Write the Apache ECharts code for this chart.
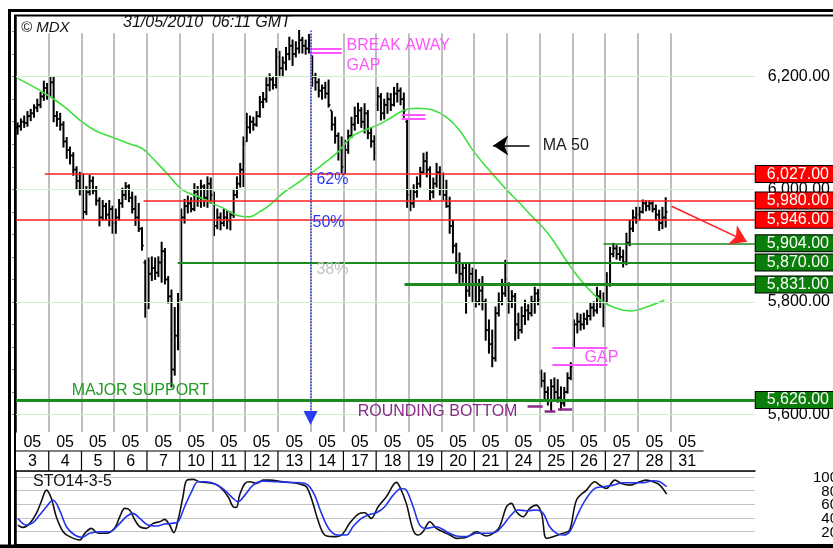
<!DOCTYPE html>
<html>
<head>
<meta charset="utf-8">
<script src="https://cdn.jsdelivr.net/npm/echarts@6/dist/echarts.min.js"></script>
<style>
  html, body { margin: 0; padding: 0; background: #fff; }
  #chart { width: 833px; height: 548px; }
</style>
</head>
<body>
<div id="chart"></div>
<script>
// ---- data (x = bar index, 10 bars per trading day) ----
const month = '05';
const days = ['3', '4', '5', '6', '7', '10', '11', '12', '13', '14', '17', '18', '19', '20', '21', '24', '25', '26', '27', '28', '31'];

// [open, close, low, high]
const bars = [
  // 3
  [6110,6112,6098,6118],[6112,6120,6105,6125],[6120,6118,6110,6130],[6118,6130,6112,6138],[6130,6135,6122,6142],[6135,6145,6128,6150],[6145,6150,6138,6160],[6150,6165,6145,6172],[6165,6180,6158,6192],[6180,6170,6160,6188],
  // 4
  [6170,6190,6165,6200],[6190,6130,6120,6200],[6130,6125,6112,6138],[6125,6115,6105,6135],[6115,6085,6075,6120],[6085,6070,6055,6092],[6070,6060,6045,6075],[6060,6035,6025,6065],[6035,6015,6000,6040],[6015,6000,5990,6030],
  // 5
  [6000,5960,5948,6028],[5960,5995,5955,6005],[5995,6015,5990,6025],[6015,5998,5992,6022],[5998,5980,5972,6005],[5980,5950,5935,5985],[5950,5970,5945,5980],[5970,5955,5945,5975],[5955,5965,5935,5980],[5965,5940,5922,5970],
  // 6
  [5940,5950,5922,5965],[5950,5975,5945,5982],[5975,5990,5968,6002],[5990,6005,5982,6012],[6005,5985,5978,6008],[5985,5965,5958,5995],[5965,5950,5936,5988],[5950,5930,5925,5975],[5930,5900,5892,5932],[5870,5790,5773,5874],
  // 7
  [5790,5850,5788,5878],[5850,5860,5838,5880],[5860,5852,5840,5878],[5852,5870,5845,5880],[5870,5890,5835,5906],[5890,5840,5832,5895],[5840,5810,5798,5845],[5810,5680,5649,5821],[5680,5740,5670,5790],[5740,5790,5715,5815],
  // 10
  [5805,5950,5803,5965],[5950,5970,5940,5982],[5970,5975,5958,5988],[5975,5965,5960,5985],[5965,5995,5962,6010],[5995,5985,5970,6005],[5985,6005,5968,6016],[6005,5985,5970,6008],[5985,6010,5968,6022],[6010,5990,5975,6020],
  // 11
  [5990,5935,5918,5995],[5935,5950,5930,5965],[5950,5940,5928,5958],[5940,5950,5935,5965],[5950,5945,5930,5962],[5945,5955,5928,5960],[5955,5990,5950,6000],[5990,6010,5985,6022],[6010,6035,6004,6046],[6035,6080,6005,6093],
  // 12
  [6085,6110,6085,6135],[6110,6120,6100,6130],[6120,6115,6105,6128],[6115,6130,6112,6138],[6130,6155,6128,6165],[6155,6160,6145,6172],[6160,6185,6155,6198],[6185,6195,6175,6205],[6195,6185,6178,6200],[6185,6235,6180,6250],
  // 13
  [6235,6215,6200,6245],[6215,6225,6200,6235],[6225,6240,6212,6252],[6240,6255,6230,6270],[6255,6240,6220,6265],[6240,6250,6235,6262],[6250,6265,6242,6282],[6265,6255,6242,6270],[6255,6250,6240,6265],[6250,6258,6242,6275],
  // 14
  [6235,6200,6183,6237],[6200,6190,6176,6206],[6190,6175,6164,6196],[6175,6180,6160,6185],[6180,6170,6162,6190],[6170,6150,6146,6194],[6140,6115,6105,6138],[6115,6095,6082,6128],[6095,6070,6052,6100],[6070,6040,6029,6093],
  // 17
  [6040,6070,6028,6087],[6070,6095,6064,6105],[6095,6115,6092,6128],[6115,6130,6105,6146],[6130,6140,6117,6153],[6140,6120,6110,6145],[6120,6135,6100,6152],[6135,6100,6090,6140],[6100,6085,6075,6108],[6085,6065,6052,6095],
  // 18
  [6150,6165,6140,6181],[6165,6135,6123,6170],[6135,6150,6125,6160],[6150,6160,6135,6171],[6160,6150,6140,6170],[6150,6170,6148,6181],[6170,6175,6155,6188],[6175,6160,6150,6180],[6160,6140,6128,6171],[6120,5990,5968,6125],
  // 19
  [5990,5975,5962,6000],[5975,5995,5968,6008],[5995,6010,5986,6022],[6010,6030,6004,6039],[6030,6050,6029,6064],[6050,6035,6022,6066],[6035,5995,5981,6040],[5995,6010,5985,6020],[6010,6030,6004,6046],[6030,6000,5990,6040],
  // 20
  [6000,5990,5981,6029],[5990,5970,5968,6016],[5970,5935,5922,5986],[5935,5900,5887,5945],[5900,5870,5851,5904],[5870,5850,5834,5887],[5850,5860,5835,5870],[5860,5820,5780,5869],[5820,5850,5810,5869],[5850,5830,5800,5860],
  // 21
  [5830,5800,5791,5857],[5800,5820,5795,5840],[5820,5800,5786,5845],[5800,5750,5732,5805],[5750,5725,5709,5768],[5725,5700,5685,5750],[5700,5780,5695,5791],[5780,5800,5775,5816],[5800,5815,5795,5840],[5815,5840,5810,5874],
  // 24
  [5830,5800,5780,5834],[5800,5810,5790,5820],[5810,5760,5732,5815],[5760,5750,5735,5780],[5750,5775,5745,5791],[5775,5785,5760,5803],[5785,5780,5768,5795],[5780,5800,5775,5810],[5800,5815,5780,5826],[5815,5805,5795,5822],
  // 25
  [5675,5660,5649,5679],[5660,5640,5626,5674],[5640,5625,5617,5649],[5625,5650,5605,5662],[5650,5640,5626,5665],[5640,5630,5622,5662],[5630,5620,5608,5649],[5620,5640,5615,5648],[5640,5665,5638,5674],[5665,5685,5662,5692],
  // 26
  [5725,5760,5720,5768],[5760,5765,5745,5780],[5765,5760,5750,5778],[5760,5770,5752,5780],[5770,5775,5760,5785],[5775,5790,5768,5798],[5790,5785,5775,5800],[5785,5810,5780,5826],[5810,5800,5790,5820],[5800,5790,5756,5816],
  // 27
  [5800,5830,5798,5852],[5830,5885,5828,5897],[5885,5895,5880,5904],[5895,5885,5876,5900],[5885,5880,5874,5897],[5880,5870,5862,5892],[5870,5905,5866,5922],[5905,5930,5900,5945],[5930,5950,5925,5963],[5950,5955,5940,5968],
  // 28
  [5955,5960,5945,5968],[5960,5975,5958,5981],[5975,5970,5962,5980],[5970,5975,5963,5980],[5975,5965,5960,5979],[5965,5955,5945,5972],[5955,5940,5927,5963],[5940,5950,5930,5968],[5950,5960,5933,5985]
];

// MA 50, [bar index, value]
const ma50 = [[0.5,6197],[5.7,6181],[9.7,6167],[14.9,6146],[19.5,6123],[24.0,6105],[29.2,6093],[34.1,6082],[38.4,6073],[40.8,6061],[46.0,6029],[50.9,5999],[56.1,5986],[59.2,5977],[63.1,5967],[67.4,5954],[71.4,5951],[74.4,5960],[77.5,5972],[81.5,5993],[86.0,6011],[90.3,6029],[94.3,6047],[98.3,6066],[102.5,6093],[106.5,6105],[110.5,6114],[114.8,6128],[118.7,6141],[122.7,6144],[127.3,6141],[131.5,6128],[135.5,6105],[139.5,6070],[143.8,6039],[149.9,5999],[153.8,5976],[157.8,5951],[160.9,5933],[164.0,5910],[168.2,5873],[172.2,5841],[176.1,5816],[179.8,5798],[184.4,5787],[188.1,5784],[192.6,5791],[198.1,5803]];

// STO14-3-5
const stoK = [[0.6,29.4],[2.1,25.9],[4.2,31.9],[6.2,46.6],[7.7,63.7],[9.3,80.9],[10.8,68.6],[12.3,41.7],[14.4,19.6],[16.4,12.3],[19.5,7.4],[21.0,17.2],[23.0,24.5],[25.1,17.2],[27.6,17.2],[30.1,24.5],[31.7,41.7],[33.2,53.9],[34.7,51.5],[36.3,36.8],[37.8,26.9],[39.8,24.5],[41.9,31.9],[43.9,34.3],[45.4,37.7],[46.9,29.4],[48.2,18.1],[49.5,36.8],[51.0,71.1],[52.2,95.6],[54.1,96.6],[56.1,93.1],[60.2,90.7],[62.2,85.8],[64.8,71.1],[66.3,56.4],[67.3,55.4],[68.3,73.5],[69.9,90.7],[71.4,93.1],[73.4,90.7],[75.5,95.6],[77.5,95.6],[81.6,93.1],[84.6,91.7],[86.6,89.7],[88.7,85.8],[90.7,61.3],[92.2,36.8],[94.3,14.7],[96.8,12.3],[99.4,14.7],[101.9,31.9],[104.5,45.6],[106.5,47.5],[108.5,39.2],[110.6,56.4],[113.1,71.1],[116.2,92.2],[117.2,85.8],[119.2,61.3],[121.3,22.1],[122.8,14.7],[124.3,19.6],[126.4,34.3],[128.4,24.5],[130.4,19.6],[132.5,14.7],[134.5,9.8],[137.6,11.3],[140.6,19.6],[143.7,13.2],[145.7,17.2],[147.7,26.9],[149.8,56.4],[151.3,61.3],[152.8,49.0],[154.9,41.7],[156.9,53.9],[158.9,58.8],[160.5,46.6],[162.0,9.8],[164.0,12.3],[167.1,17.2],[169.1,22.1],[171.2,66.2],[174.2,80.9],[176.8,93.1],[178.3,88.2],[180.3,83.3],[182.9,95.6],[184.9,90.7],[187.5,88.2],[190.5,93.1],[192.5,95.6],[194.6,93.1],[196.6,88.2],[198.7,75.0]];
const stoD = [[0.6,39.2],[3.2,29.4],[5.2,32.8],[7.2,44.1],[9.3,56.4],[11.3,66.2],[13.3,51.5],[15.4,26.9],[17.9,14.7],[20.0,11.3],[22.5,17.2],[25.6,19.6],[28.6,19.6],[31.7,31.9],[33.7,41.7],[35.7,46.6],[37.8,39.2],[40.3,29.4],[42.9,27.9],[45.4,30.9],[47.5,31.9],[49.5,34.3],[51.5,56.4],[53.6,78.4],[55.6,93.1],[58.1,93.1],[61.2,89.2],[64.3,78.4],[66.3,68.6],[67.8,63.7],[69.9,73.5],[72.4,88.2],[75.5,94.1],[79.5,93.1],[83.6,92.2],[87.2,91.7],[89.2,88.2],[91.2,73.5],[93.3,46.6],[95.8,22.1],[98.4,14.7],[100.9,14.7],[102.9,26.9],[105.5,39.2],[108.0,45.1],[110.1,47.5],[112.6,56.4],[115.2,73.5],[117.7,83.3],[119.2,80.9],[121.3,56.4],[123.3,29.4],[125.3,24.5],[128.4,26.9],[131.5,19.6],[134.5,13.2],[137.6,12.3],[140.6,17.2],[143.7,17.2],[146.7,19.6],[148.8,29.4],[150.8,41.7],[153.3,51.5],[155.9,50.5],[158.9,51.5],[161.0,46.6],[163.0,26.9],[165.1,17.2],[167.1,14.7],[169.1,19.6],[171.7,46.6],[174.2,68.6],[176.8,83.3],[179.3,85.8],[182.4,88.2],[185.4,91.7],[188.5,91.7],[191.5,91.7],[194.6,94.6],[196.6,93.1],[198.7,85.8]];

// support / resistance levels and the bar index where each line starts
const levelValues = [6027, 5980, 5946, 5904, 5870, 5831, 5626];
const levelFrom = [8.8, 39, 0, 179.5, 49.4, 118.7, 0];
const priceLabels = [5600, 5800, 6000, 6200];
const priceTicks = [5600,5640,5680,5720,5760,5800,5840,5880,5920,5960,6000,6040,6080,6120,6160,6200,6240,6280];
const stoLabels = [20, 40, 60, 80, 100];

// gap marks [from, to, upper, lower]
const gapBreakaway = [89.8, 99.5, 6250, 6243];
const gapMay18 = [117.8, 125.1, 6133, 6126];
const gapMay25 = [163.9, 180.7, 5718, 5688];

// ---- layout ----
const FONT = '"Liberation Sans", Arial, Helvetica, sans-serif';
const X_MAX = 225.7;
const Y_MIN = 5569, Y_MAX = 6306;
const RED = '#ff1f1f', GREEN = '#1d8a1d', PINK = '#ff55ff', PURPLE = '#8a2a8a', BLUE = '#2a3cf0';

const fmtPrice = v => {
  const [a, b] = v.toFixed(2).split('.');
  return a.replace(/\B(?=(\d{3})+(?!\d))/g, ',') + '.' + b;
};

const levelLook = v => {
  if (v >= 5946) return { color: RED, width: 1.5, box: '#ff0000' };
  const w = v === 5904 ? 1.5 : v === 5870 ? 2 : 3;
  return { color: GREEN, width: w, box: '#0a7d0a' };
};

function hLine(from, to, v, style, extra) {
  return [Object.assign({ coord: [from, v], lineStyle: style }, extra || {}),
          { coord: [to, v], lineStyle: style }];
}

// day separators and light green price grid
const gridLines = [];
for (let k = 1; k <= 20; k++) {
  gridLines.push([{ coord: [k * 10, 6277], lineStyle: { color: '#a9a9a9', width: 1.5, type: 'solid' } },
                  { coord: [k * 10, Y_MIN] }]);
}
priceLabels.forEach(v => gridLines.push(hLine(0, X_MAX, v, { color: '#cdefcd', width: 1, type: 'solid' })));

// annotation lines
const noteLines = [];
levelValues.forEach((v, i) => {
  const lk = levelLook(v);
  noteLines.push([
    { coord: [levelFrom[i], v], lineStyle: { color: lk.color, width: lk.width, type: 'solid' } },
    { coord: [X_MAX, v], lineStyle: { color: lk.color, width: lk.width, type: 'solid' },
      label: { show: true, position: 'end', distance: 1, formatter: fmtPrice(v), color: '#fff',
               fontFamily: FONT, fontSize: 16, lineHeight: 15, backgroundColor: lk.box,
               borderColor: '#000', borderWidth: 1, padding: [1, 30, 0, 11] } }
  ]);
});
[gapBreakaway, gapMay18, gapMay25].forEach(g => {
  noteLines.push(hLine(g[0], g[1], g[2], { color: PINK, width: 2, type: 'solid' }));
  noteLines.push(hLine(g[0], g[1], g[3], { color: PINK, width: 2, type: 'solid' }));
});
noteLines.push(hLine(156.3, 160.9, 5614, { color: PURPLE, width: 2.5, type: 'solid' }));
noteLines.push(hLine(161.5, 164.8, 5606, { color: PURPLE, width: 2.5, type: 'solid' }));
noteLines.push(hLine(165.6, 169.9, 5610, { color: PURPLE, width: 2.5, type: 'solid' }));
// blue dotted line with arrow down
noteLines.push([{ coord: [90, 6282], symbol: 'none', lineStyle: { color: BLUE, width: 1.5, type: 'dotted' } },
                { coord: [90, 5594], symbol: 'triangle', symbolSize: 14, lineStyle: { color: BLUE, width: 1.5, type: 'dotted' }, itemStyle: { color: BLUE } }]);
// MA 50 pointer
noteLines.push([{ coord: [156.9, 6078], symbol: 'none', lineStyle: { color: '#000', width: 1.5, type: 'solid' } },
                { coord: [145.8, 6078], symbol: 'arrow', symbolSize: 15, lineStyle: { color: '#000', width: 1.5, type: 'solid' }, itemStyle: { color: '#000' } }]);
// red arrow
noteLines.push([{ coord: [200.3, 5970], symbol: 'none', lineStyle: { color: RED, width: 1.5, type: 'solid' } },
                { coord: [223.3, 5907], symbol: 'arrow', symbolSize: 16, lineStyle: { color: RED, width: 1.5, type: 'solid' }, itemStyle: { color: RED } }]);

function renderOhlc(params, api) {
  const x = api.value(0);
  const op = api.coord([x, api.value(1)]);
  const cl = api.coord([x, api.value(2)]);
  const lo = api.coord([x, api.value(3)]);
  const hi = api.coord([x, api.value(4)]);
  const t = 1.8;
  const st = { stroke: '#000', lineWidth: 1.8 };
  return {
    type: 'group',
    children: [
      { type: 'line', shape: { x1: hi[0], y1: hi[1] - 0.5, x2: lo[0], y2: lo[1] + 0.5 }, style: { stroke: '#000', lineWidth: 2 } },
      { type: 'line', shape: { x1: op[0] - t, y1: op[1], x2: op[0], y2: op[1] }, style: st },
      { type: 'line', shape: { x1: cl[0], y1: cl[1], x2: cl[0] + t, y2: cl[1] }, style: st }
    ]
  };
}

function renderDays(params, api) {
  const i = params.dataIndex;
  const a = api.coord([i * 10, 0]);
  const b = api.coord([(i + 1) * 10, 0]);
  const top = params.coordSys.y;
  const xm = (a[0] + b[0]) / 2;
  const lineY = top + 19;
  const txt = { align: 'center', verticalAlign: 'middle', font: '16px ' + FONT, fill: '#000' };
  const kids = [
    { type: 'text', style: Object.assign({ text: month, x: xm, y: top + 11 }, txt) },
    { type: 'text', style: Object.assign({ text: days[i], x: xm, y: top + 29.5 }, txt) },
    { type: 'line', shape: { x1: a[0], y1: lineY, x2: b[0], y2: lineY }, style: { stroke: '#000', lineWidth: 1.2 } }
  ];
  if (i > 0) {
    kids.push({ type: 'line', shape: { x1: a[0], y1: lineY, x2: a[0], y2: top + 39 }, style: { stroke: '#000', lineWidth: 1.2 } });
  }
  return { type: 'group', children: kids };
}

const chart = echarts.init(document.getElementById('chart'));

chart.setOption({
  animation: false,
  backgroundColor: '#fff',
  grid: [
    { left: 16, right: 78, top: 17, height: 415 },
    { left: 16, right: 78, top: 471, height: 74 },
    { left: 16, right: 78, top: 432, height: 39 }
  ],
  xAxis: [
    { gridIndex: 0, type: 'value', min: 0, max: X_MAX, show: false },
    { gridIndex: 1, type: 'value', min: 0, max: X_MAX, position: 'top',
      axisLine: { show: true, onZero: false, lineStyle: { color: '#000', width: 1.5 } },
      axisTick: { show: false }, axisLabel: { show: false }, splitLine: { show: false } },
    { gridIndex: 2, type: 'value', min: 0, max: X_MAX, show: false }
  ],
  yAxis: [
    { gridIndex: 0, type: 'value', position: 'right', min: Y_MIN, max: Y_MAX, scale: true,
      axisLine: { show: true, lineStyle: { color: '#000', width: 1.5 } },
      axisTick: { show: true, inside: true, length: 4, customValues: priceTicks, lineStyle: { color: '#888' } },
      axisLabel: { customValues: priceLabels, formatter: v => fmtPrice(v), margin: 13, hideOverlap: false,
                   color: '#000', fontFamily: FONT, fontSize: 16 },
      splitLine: { show: false } },
    { gridIndex: 1, type: 'value', position: 'right', min: 0, max: 109, interval: 20,
      axisLine: { show: true, lineStyle: { color: '#000', width: 1.5 } },
      axisTick: { show: false },
      axisLabel: { show: false },
      splitLine: { show: true, lineStyle: { color: '#c4c4c4', width: 1 } } },
    { gridIndex: 2, type: 'value', min: 0, max: 1, show: false }
  ],
  series: [
    {
      name: 'grid', type: 'line', xAxisIndex: 0, yAxisIndex: 0, data: [], silent: true, z: 1, clip: false,
      markLine: { silent: true, symbol: 'none', label: { show: false }, animation: false, data: gridLines }
    },
    {
      name: 'levels', type: 'line', xAxisIndex: 0, yAxisIndex: 0, data: [], silent: true, z: 2, clip: false,
      markLine: { silent: true, symbol: 'none', label: { show: false }, animation: false, data: noteLines }
    },
    {
      name: 'DAX', type: 'custom', xAxisIndex: 0, yAxisIndex: 0, z: 3,
      renderItem: renderOhlc,
      encode: { x: 0, y: [1, 2, 3, 4] },
      data: bars.map((b, i) => [i + 0.5, b[0], b[1], b[2], b[3]])
    },
    {
      name: 'MA 50', type: 'line', xAxisIndex: 0, yAxisIndex: 0, z: 4, smooth: 0.4, symbol: 'none',
      lineStyle: { color: '#3ee03e', width: 1.6 }, data: ma50
    },
    {
      name: '%K', type: 'line', xAxisIndex: 1, yAxisIndex: 1, smooth: 0.35, symbol: 'none',
      lineStyle: { color: '#111', width: 1.6 }, data: stoK
    },
    {
      name: '%D', type: 'line', xAxisIndex: 1, yAxisIndex: 1, smooth: 0.35, symbol: 'none',
      lineStyle: { color: '#2233ee', width: 1.6 }, data: stoD
    },
    {
      name: 'dates', type: 'custom', xAxisIndex: 2, yAxisIndex: 2, silent: true,
      renderItem: renderDays,
      data: days.map((d, i) => [i * 10 + 5, 0.5])
    }
  ]
});

// text notes placed in data coordinates
const notes = [
  ['BREAK AWAY', 101.0, 6256, PINK],
  ['GAP', 101.0, 6219, PINK],
  ['MA 50', 160.9, 6078, '#1a1a1a'],
  ['62%', 91.8, 6018, BLUE],
  ['50%', 90.6, 5940, BLUE],
  ['38%', 91.8, 5857, '#c2c2c2'],
  ['MAJOR SUPPORT', 17.0, 5642, '#239b23'],
  ['ROUNDING BOTTOM', 104.4, 5605, PURPLE],
  ['GAP', 173.7, 5702, PINK]
];

const graphics = notes.map(n => {
  const p = chart.convertToPixel({ gridIndex: 0 }, [n[1], n[2]]);
  return { type: 'text', silent: true, z: 50,
           style: { text: n[0], x: p[0], y: p[1], fill: n[3], font: '16px ' + FONT, verticalAlign: 'middle' } };
});
// stochastic scale labels (they overlap in the original, so drawn directly)
stoLabels.forEach(v => {
  const p = chart.convertToPixel({ gridIndex: 1 }, [X_MAX, v]);
  graphics.push({ type: 'text', silent: true, z: 50,
                  style: { text: String(v), x: p[0] + 83, y: p[1] + 1, fill: '#000', font: '15px ' + FONT,
                           align: 'right', verticalAlign: 'middle' } });
});
graphics.push(
  { type: 'text', z: 50, style: { text: '\u00a9 MDX', x: 21, y: 28, fill: '#111', font: 'italic 15px ' + FONT, verticalAlign: 'middle' } },
  { type: 'text', z: 50, style: { text: '31/05/2010  06:11 GMT', x: 123, y: 23, fill: '#111', font: 'italic 16px ' + FONT, verticalAlign: 'middle' } },
  { type: 'text', z: 50, style: { text: 'STO14-3-5', x: 33, y: 482, fill: '#111', font: '16px ' + FONT, verticalAlign: 'middle' } },
  { type: 'rect', z: 60, shape: { x: 9.5, y: 10.5, width: 840, height: 560 }, style: { fill: 'none', stroke: '#000', lineWidth: 3 } },
  { type: 'rect', z: 60, shape: { x: 15, y: 15.5, width: 840, height: 529.5 }, style: { fill: 'none', stroke: '#000', lineWidth: 2 } },
  { type: 'rect', z: 60, shape: { x: 0, y: 544.5, width: 833, height: 4 }, style: { fill: '#000' } }
);
chart.setOption({ graphic: graphics });
</script>
</body>
</html>
